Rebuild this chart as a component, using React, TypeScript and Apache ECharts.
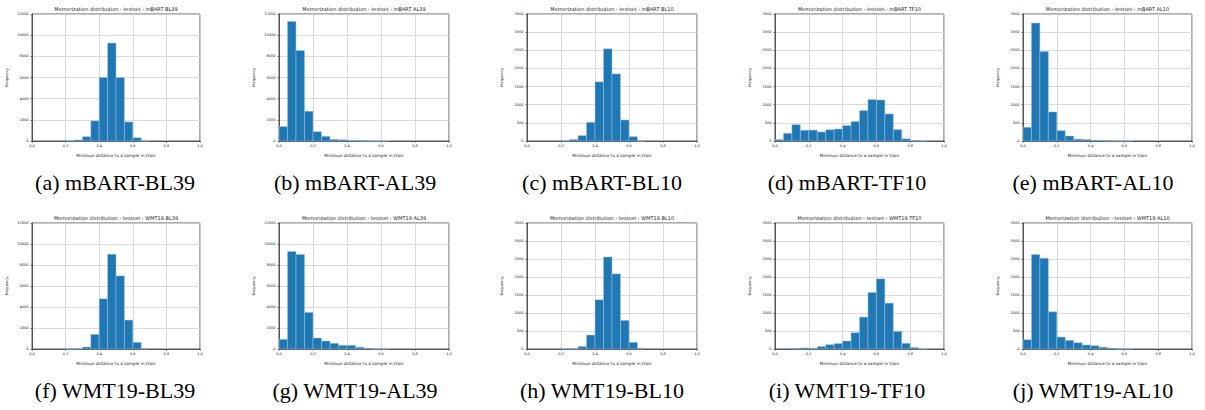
import React, { useEffect, useRef } from "react";
import * as echarts from "echarts";

// Histogram bin edges (bin width 0.05)
const BIN_STARTS = [0.0, 0.05, 0.1, 0.15, 0.2, 0.25, 0.3, 0.35, 0.4, 0.45, 0.5, 0.55, 0.6, 0.65, 0.7, 0.75, 0.8, 0.85, 0.9, 0.95];
const BIN_ENDS = [0.05, 0.1, 0.15, 0.2, 0.25, 0.3, 0.35, 0.4, 0.45, 0.5, 0.55, 0.6, 0.65, 0.7, 0.75, 0.8, 0.85, 0.9, 0.95, 1.0];

// Counts per bin
const mBART_BL39 = [0, 0, 0, 0, 40, 100, 410, 1900, 6000, 9250, 6000, 1800, 310, 20, 0, 0, 0, 0, 0, 0];
const mBART_AL39 = [1360, 11300, 8560, 2810, 880, 440, 150, 120, 60, 40, 10, 5, 3, 0, 0, 0, 0, 0, 0, 0];
const mBART_BL10 = [0, 0, 0, 0, 10, 40, 147, 515, 1630, 2540, 1850, 580, 120, 5, 0, 0, 0, 0, 0, 0];
const mBART_TF10 = [40, 212, 450, 295, 300, 250, 310, 330, 424, 534, 838, 1142, 1130, 746, 313, 60, 15, 3, 0, 0];
const mBART_AL10 = [378, 3250, 2468, 801, 285, 138, 50, 40, 20, 15, 8, 3, 2, 0, 0, 0, 0, 0, 0, 0];
const WMT19_BL39 = [0, 0, 0, 0, 10, 30, 190, 1393, 4780, 9025, 6966, 2755, 633, 40, 0, 0, 0, 0, 0, 0];
const WMT19_AL39 = [918, 9278, 8990, 3483, 1045, 760, 540, 350, 350, 170, 80, 20, 5, 0, 0, 0, 0, 0, 0, 0];
const WMT19_BL10 = [0, 0, 0, 0, 5, 10, 70, 388, 1367, 2558, 2087, 794, 185, 20, 0, 0, 0, 0, 0, 0];
const WMT19_TF10 = [0, 0, 20, 30, 20, 70, 120, 150, 222, 452, 886, 1570, 1948, 1274, 490, 157, 40, 3, 0, 0];
const WMT19_AL10 = [258, 2622, 2521, 1034, 332, 240, 175, 111, 90, 50, 25, 8, 3, 0, 0, 0, 0, 0, 0, 0];

const PANEL_NAMES = ["mBART BL39", "mBART AL39", "mBART BL10", "mBART TF10", "mBART AL10", "WMT19 BL39", "WMT19 AL39", "WMT19 BL10", "WMT19 TF10", "WMT19 AL10"];
const CAPTIONS = ["(a) mBART-BL39", "(b) mBART-AL39", "(c) mBART-BL10", "(d) mBART-TF10", "(e) mBART-AL10", "(f) WMT19-BL39", "(g) WMT19-AL39", "(h) WMT19-BL10", "(i) WMT19-TF10", "(j) WMT19-AL10"];
const SERIES = [mBART_BL39, mBART_AL39, mBART_BL10, mBART_TF10, mBART_AL10, WMT19_BL39, WMT19_AL39, WMT19_BL10, WMT19_TF10, WMT19_AL10];
const Y_MAX = [12000, 12000, 3500, 3500, 3500, 12000, 12000, 3500, 3500, 3500];
const Y_STEP = [2000, 2000, 500, 500, 500, 2000, 2000, 500, 500, 500];
const TITLE_PREFIX = "Memorization distribution - testset - ";
const X_LABEL = "Minimun distance to a sample in train";
const Y_LABEL = "Frequency";

// layout
const LEFTS = [32, 279, 527, 775, 1023];
const WIDTHS = [168, 170, 170, 169, 169];
const TOPS = [14, 223];
const HEIGHTS = [127, 126];
const CAPTION_X = [115, 355, 602, 847, 1093];
const CAPTION_Y = [182, 390];

const DJ = "DejaVu Sans";

export default function App() {
  const ref = useRef<HTMLDivElement>(null);
  useEffect(() => {
    if (!ref.current) return;
    const chart = echarts.init(ref.current, null, { renderer: "svg" });
    const grids: any[] = [];
    const xAxes: any[] = [];
    const yAxes: any[] = [];
    const series: any[] = [];
    const titles: any[] = [];
    const graphics: any[] = [];
    for (let i = 0; i < 10; i++) {
      const row = Math.floor(i / 5);
      const col = i % 5;
      const left = LEFTS[col];
      const width = WIDTHS[col];
      const top = TOPS[row];
      const height = HEIGHTS[row];
      grids.push({
        left, top, width, height,
        show: true,
        borderColor: "#333",
        borderWidth: 0.8,
        backgroundColor: "#fff",
        containLabel: false,
      });
      xAxes.push({
        type: "value",
        gridIndex: i,
        min: 0,
        max: 1,
        interval: 0.2,
        name: X_LABEL,
        nameLocation: "middle",
        nameGap: 12,
        nameTextStyle: { fontSize: 4.2, fontFamily: DJ, color: "#222" },
        axisLine: { show: true, lineStyle: { color: "#333", width: 0.8 } },
        axisTick: { show: true, length: 1.5, lineStyle: { color: "#333", width: 0.6 } },
        axisLabel: { fontSize: 3.5, fontFamily: DJ, color: "#222", margin: 3, formatter: (v: number) => v.toFixed(1) },
        splitLine: { show: true, lineStyle: { color: "#d0d0d0", width: 0.8 } },
      });
      yAxes.push({
        type: "value",
        gridIndex: i,
        min: 0,
        max: Y_MAX[i],
        interval: Y_STEP[i],
        name: Y_LABEL,
        nameLocation: "middle",
        nameGap: 23,
        nameRotate: 90,
        nameTextStyle: { fontSize: 3.6, fontFamily: DJ, color: "#222" },
        axisLine: { show: true, lineStyle: { color: "#333", width: 0.8 } },
        axisTick: { show: true, length: 1.5, lineStyle: { color: "#333", width: 0.6 } },
        axisLabel: { fontSize: 3.5, fontFamily: DJ, color: "#222", margin: 3.5, formatter: (v: number) => String(Math.round(v)) },
        splitLine: { show: true, lineStyle: { color: "#d0d0d0", width: 0.8 } },
      });
      const data = SERIES[i].map((c, k) => [BIN_STARTS[k], BIN_ENDS[k], c]).filter((d) => d[2] > 0);
      series.push({
        type: "custom",
        coordinateSystem: "cartesian2d",
        xAxisIndex: i,
        yAxisIndex: i,
        encode: { x: [0, 1], y: 2 },
        data,
        renderItem: (params: any, api: any) => {
          const x0 = api.value(0);
          const x1 = api.value(1);
          const y = api.value(2);
          const p0 = api.coord([x0, y]);
          const p1 = api.coord([x1, 0]);
          return {
            type: "rect",
            shape: { x: p0[0], y: p0[1], width: p1[0] - p0[0], height: p1[1] - p0[1] },
            style: { fill: "#1f77b4", stroke: "#9cc3e0", lineWidth: 0.5 },
          };
        },
      });
      titles.push({
        text: TITLE_PREFIX + PANEL_NAMES[i],
        left: left + width / 2,
        top: top - 7.5,
        textAlign: "center",
        padding: 0,
        textStyle: { fontSize: 5, fontWeight: "normal", fontFamily: DJ, color: "#222" },
      });
      graphics.push({
        type: "text",
        x: CAPTION_X[col],
        y: CAPTION_Y[row],
        style: {
          text: CAPTIONS[i],
          fontSize: 22,
          fontFamily: "Liberation Serif",
          fill: "#000",
          textAlign: "center",
          textVerticalAlign: "middle",
        },
      });
    }
    chart.setOption({
      animation: false,
      backgroundColor: "#fff",
      title: titles,
      grid: grids,
      xAxis: xAxes,
      yAxis: yAxes,
      series,
      graphic: graphics,
    });
    return () => chart.dispose();
  }, []);
  return (
    <div
      ref={ref}
      style={{ position: "absolute", left: 0, top: 0, width: 1205, height: 410 }}
    />
  );
}
